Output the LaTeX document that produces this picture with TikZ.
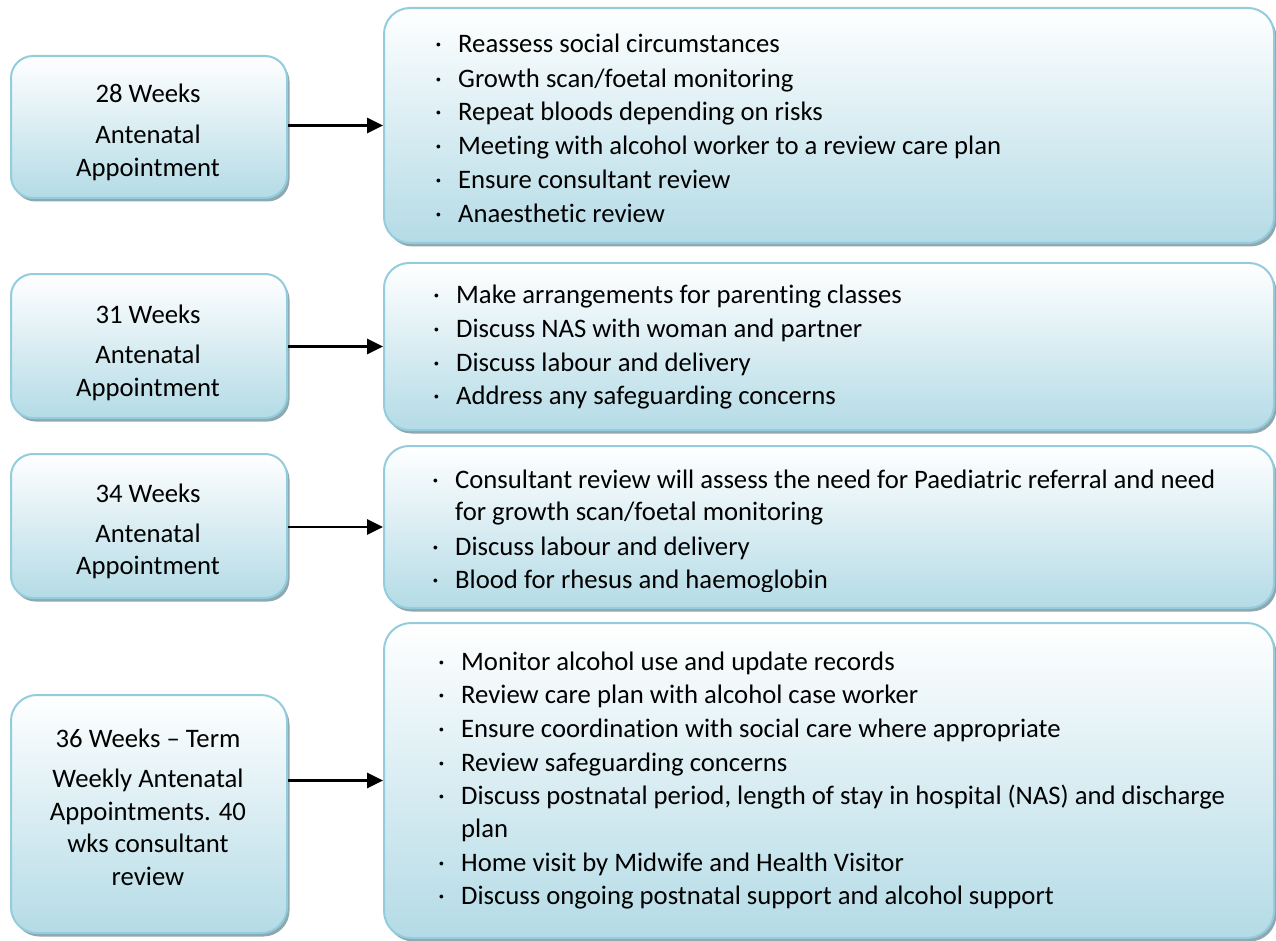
\documentclass[tikz,border=0pt]{standalone}
\usepackage{fontspec}
\setmainfont{Carlito}[Ligatures=NoCommon, RawFeature=-calt]
\usetikzlibrary{arrows.meta,shadows}
\definecolor{boxline}{HTML}{93CDDD}
\definecolor{boxbot}{HTML}{B4DBE6}
\definecolor{boxshade}{HTML}{8FA7AE}
\newcommand{\bltxt}[1]{\makebox[23pt][l]{\textperiodcentered}#1}
\begin{document}
\begin{tikzpicture}[x=1pt,y=-1pt,
  card/.style={draw=boxline, line width=2pt, rounded corners=#1,
    top color=white, bottom color=boxbot, inner sep=0pt, anchor=north west,
    drop shadow={shadow xshift=2.5pt, shadow yshift=-3.5pt, fill=boxshade, opacity=1}},
  txt/.style={font=\fontsize{26.7}{32}\selectfont, inner sep=0pt, anchor=base west},
  ctxt/.style={font=\fontsize{26.7}{32}\selectfont, inner sep=0pt, anchor=base},
  arr/.style={line width=2.8pt, -{Triangle[length=16pt,width=15pt]}}]
\useasboundingbox (0,0) rectangle (1276,941);

% stage boxes (left)
\node[card=22, minimum width=276pt, minimum height=142pt] (l1) at (10,55) {};
\node[card=22, minimum width=276pt, minimum height=144pt] (l2) at (10,273) {};
\node[card=22, minimum width=276pt, minimum height=144pt] (l3) at (10,453) {};
\node[card=26, minimum width=276pt, minimum height=238pt] (l4) at (10,694) {};

% action boxes (right)
\node[card=26, minimum width=890pt, minimum height=235pt] (r1) at (383,7) {};
\node[card=25, minimum width=890pt, minimum height=167pt] (r2) at (383,262) {};
\node[card=25, minimum width=890pt, minimum height=162pt] (r3) at (383,445) {};
\node[card=27, minimum width=890pt, minimum height=315pt] (r4) at (383,622) {};

% connectors
\draw[arr] (l1.east |- r1.west) -- (r1.west);
\draw[arr] (l2.east |- r2.west) -- (r2.west);
\draw[arr] (l3.east |- r3.west) -- (r3.west);
\draw[arr] (l4.east |- r4.west) -- (r4.west);

% stage labels
\node[ctxt] (l1a) at (148,103) {28 Weeks};
\node[ctxt] (l1b) at (148,144) {Antenatal};
\node[ctxt] (l1c) at (148,177) {Appointment};
\node[ctxt] (l2a) at (148,323) {31 Weeks};
\node[ctxt] (l2b) at (148,363) {Antenatal};
\node[ctxt] (l2c) at (148,396) {Appointment};
\node[ctxt] (l3a) at (148,502) {34 Weeks};
\node[ctxt] (l3b) at (148,542) {Antenatal};
\node[ctxt] (l3c) at (148,574) {Appointment};
\node[ctxt] (l4a) at (148,747) {36 Weeks -- Term};
\node[ctxt] (l4b) at (148,787) {Weekly Antenatal};
\node[ctxt] (l4c) at (148,820) {Appointments. 40};
\node[ctxt] (l4d) at (148,852) {wks consultant};
\node[ctxt] (l4e) at (148,885) {review};

% 28 weeks actions
\node[txt] (r1a) at (435,53) {\bltxt{Reassess social circumstances}};
\node[txt] (r1b) at (435,88) {\bltxt{Growth scan/foetal monitoring}};
\node[txt] (r1c) at (435,121) {\bltxt{Repeat bloods depending on risks}};
\node[txt] (r1d) at (435,155) {\bltxt{Meeting with alcohol worker to a review care plan}};
\node[txt] (r1e) at (435,189) {\bltxt{Ensure consultant review}};
\node[txt] (r1f) at (435,223) {\bltxt{Anaesthetic review}};

% 31 weeks actions
\node[txt] (r2a) at (433,303) {\bltxt{Make arrangements for parenting classes}};
\node[txt] (r2b) at (433,337) {\bltxt{Discuss NAS with woman and partner}};
\node[txt] (r2c) at (433,371) {\bltxt{Discuss labour and delivery}};
\node[txt] (r2d) at (433,404) {\bltxt{Address any safeguarding concerns}};

% 34 weeks actions (text frame cuts the last line)
\begin{scope}
\clip (383,440) rectangle (1276,591);
\node[txt] (r3a) at (432,488) {\bltxt{Consultant review will assess the need for Paediatric referral and need}};
\node[txt] (r3b) at (455,520) {for growth scan/foetal monitoring};
\node[txt] (r3c) at (432,555) {\bltxt{Discuss labour and delivery}};
\node[txt] (r3d) at (432,588) {\bltxt{Blood for rhesus and haemoglobin}};
\end{scope}

% 36 weeks to term actions
\node[txt] (r4a) at (438,670) {\bltxt{Monitor alcohol use and update records}};
\node[txt] (r4b) at (438,703) {\bltxt{Review care plan with alcohol case worker}};
\node[txt] (r4c) at (438,737) {\bltxt{Ensure coordination with social care where appropriate}};
\node[txt] (r4d) at (438,771) {\bltxt{Review safeguarding concerns}};
\node[txt] (r4e) at (438,804) {\bltxt{Discuss postnatal period, length of stay in hospital (NAS) and discharge}};
\node[txt] (r4f) at (461,837) {plan};
\node[txt] (r4g) at (438,871) {\bltxt{Home visit by Midwife and Health Visitor}};
\node[txt] (r4h) at (438,904) {\bltxt{Discuss ongoing postnatal support and alcohol support}};
\end{tikzpicture}
\end{document}
